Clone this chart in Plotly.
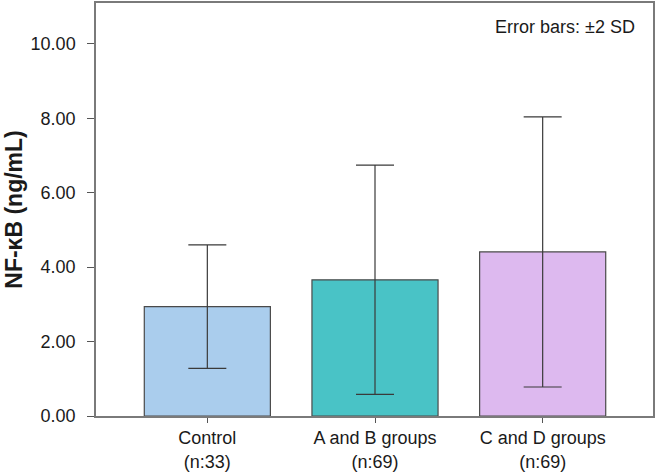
import plotly.graph_objects as go

categories = ["Control<br>(n:33)", "A and B groups<br>(n:69)", "C and D groups<br>(n:69)"]
means = [2.94, 3.66, 4.41]
err_2sd = [1.66, 3.08, 3.63]
colors = ["#AACDED", "#49C3C6", "#DDB9EF"]

fig = go.Figure()
fig.add_trace(go.Bar(
    x=[0, 1, 2], y=means,
    marker=dict(color=colors, line=dict(color="#4a4a4a", width=1.2)),
    width=0.752,
    error_y=dict(type="data", array=err_2sd, visible=True, color="#3a3a3a", thickness=1.2, width=19),
    showlegend=False,
))

fig.update_layout(
    width=656, height=473,
    margin=dict(l=96, r=2, t=1, b=57),
    paper_bgcolor="white", plot_bgcolor="white",
    font=dict(family="Liberation Sans, Arial, sans-serif", color="#1a1a1a"),
    xaxis=dict(
        range=[-0.664, 2.658], tickmode="array", tickvals=[0, 1, 2], ticktext=categories,
        ticks="outside", ticklen=5, tickcolor="#555555", showline=True, linecolor="#7a7a7a",
        linewidth=1.5, mirror=True, showgrid=False, zeroline=False, tickfont=dict(size=18),
    ),
    yaxis=dict(
        range=[0, 11.1], tickvals=[0, 2, 4, 6, 8, 10], tickformat=".2f",
        ticks="outside", ticklen=7, tickcolor="#555555", showline=True, linecolor="#7a7a7a",
        linewidth=1.5, mirror=True, showgrid=False, zeroline=False, tickfont=dict(size=18),
        ticklabelstandoff=8,
        title=dict(text="<b>NF-κB (ng/mL)</b>", font=dict(size=23), standoff=2),
    ),
    annotations=[dict(
        x=0.971, y=0.972, xref="paper", yref="paper", xanchor="right", yanchor="top",
        text="Error bars: ±2 SD", showarrow=False, font=dict(size=18, color="#1a1a1a"),
    )],
)

fig.write_html("out.html", config={"displayModeBar": False},
               post_script="document.body.style.margin='0';document.body.style.padding='0';")
